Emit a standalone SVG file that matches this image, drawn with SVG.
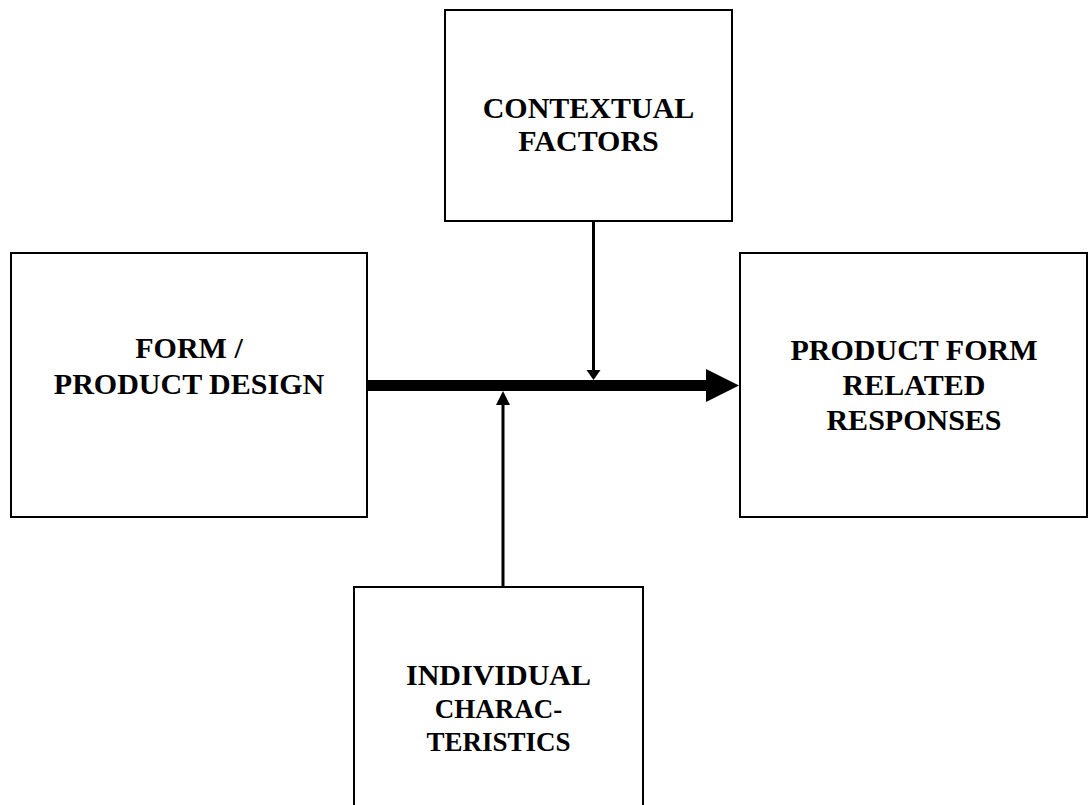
<svg xmlns="http://www.w3.org/2000/svg" width="1089" height="805" viewBox="0 0 1089 805">
  <style>
    .box { fill: #ffffff; stroke: #000000; stroke-width: 2; }
    .lbl { font-family: "Liberation Serif", "Times New Roman", serif; font-weight: bold; font-size: 30px; fill: #000000; text-anchor: middle; }
    .sm { font-size: 27px; }
    .thin { stroke: #000000; stroke-width: 3; fill: none; }
    .head { fill: #000000; stroke: none; }
  </style>
  <rect width="1089" height="805" fill="#ffffff"/>

  <g id="contextual-factors">
    <rect class="box" x="445" y="10" width="287" height="211"/>
    <text class="lbl" x="588.5" y="118">CONTEXTUAL</text>
    <text class="lbl" x="588.5" y="151">FACTORS</text>
  </g>

  <g id="form-product-design">
    <rect class="box" x="11" y="253" width="356" height="264"/>
    <text class="lbl" x="189" y="358">FORM /</text>
    <text class="lbl" x="189" y="394">PRODUCT DESIGN</text>
  </g>

  <g id="product-form-responses">
    <rect class="box" x="740" y="253" width="347" height="264"/>
    <text class="lbl" x="914" y="360">PRODUCT FORM</text>
    <text class="lbl" x="914" y="395">RELATED</text>
    <text class="lbl" x="914" y="430">RESPONSES</text>
  </g>

  <g id="individual-characteristics">
    <rect class="box" x="354" y="587" width="289" height="240"/>
    <text class="lbl" x="498.5" y="685">INDIVIDUAL</text>
    <text class="lbl sm" x="498.5" y="718">CHARAC-</text>
    <text class="lbl sm" x="498.5" y="751">TERISTICS</text>
  </g>

  <g id="connectors">
    <!-- main flow: form to responses -->
    <rect class="head" x="367" y="380" width="341" height="11"/>
    <polygon class="head" points="706,369 739,385.5 706,402"/>
    <!-- contextual factors moderate the flow -->
    <line class="thin" x1="593.5" y1="221" x2="593.5" y2="371"/>
    <polygon class="head" points="586.5,370 600.5,370 593.5,380"/>
    <!-- individual characteristics moderate the flow -->
    <line class="thin" x1="503" y1="587" x2="503" y2="404"/>
    <polygon class="head" points="496,405 510,405 503,391"/>
  </g>
</svg>
